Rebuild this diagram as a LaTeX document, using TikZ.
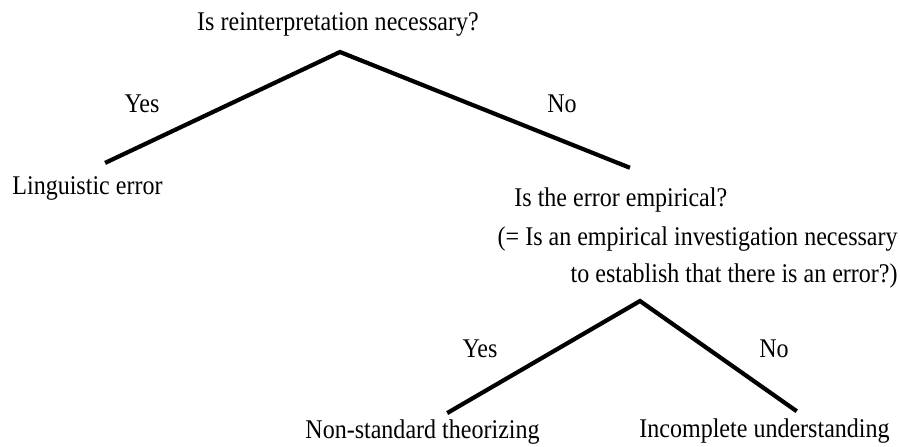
\documentclass[tikz,border=0pt]{standalone}
\usepackage{fontspec}
\setmainfont[FakeStretch=0.89]{Liberation Serif}

\tikzset{
  branch/.style={line width=2.1pt, line cap=rect, line join=miter},
  treetext/.style={inner sep=0pt, font=\fontsize{13.5}{16}\selectfont}
}

\begin{document}
\begin{tikzpicture}[x=0.5pt, y=-0.5pt]
\useasboundingbox (0,0) rectangle (900,446);

% first question
\node[treetext, anchor=base] (q1) at (338,30) {Is reinterpretation necessary?};
\coordinate (top1) at (340,52);
\coordinate (left1) at (107,162);
\coordinate (right1) at (628,167);
\node[treetext, anchor=base] (yes1) at (142,112) {Yes};
\node[treetext, anchor=base] (no1) at (562,112) {No};
\node[treetext, anchor=base west] (ling) at (12,194) {Linguistic error};
\node[treetext, anchor=base west] (q2) at (514,206) {Is the error empirical?};
\node[treetext, anchor=base east] (q2a) at (898,245) {(= Is an empirical investigation necessary};
\node[treetext, anchor=base east] (q2b) at (898,282) {to establish that there is an error?)};

% second question
\coordinate (top2) at (640,301);
\coordinate (left2) at (449,412);
\coordinate (right2) at (795,410);
\node[treetext, anchor=base] (yes2) at (480,357) {Yes};
\node[treetext, anchor=base] (no2) at (774,357) {No};
\node[treetext, anchor=base west] (nonstd) at (305,438) {Non-standard theorizing};
\node[treetext, anchor=base west] (incompl) at (639,437) {Incomplete understanding};

\draw[branch] (left1) -- (top1) -- (right1);
\draw[branch] (left2) -- (top2) -- (right2);

\end{tikzpicture}
\end{document}
